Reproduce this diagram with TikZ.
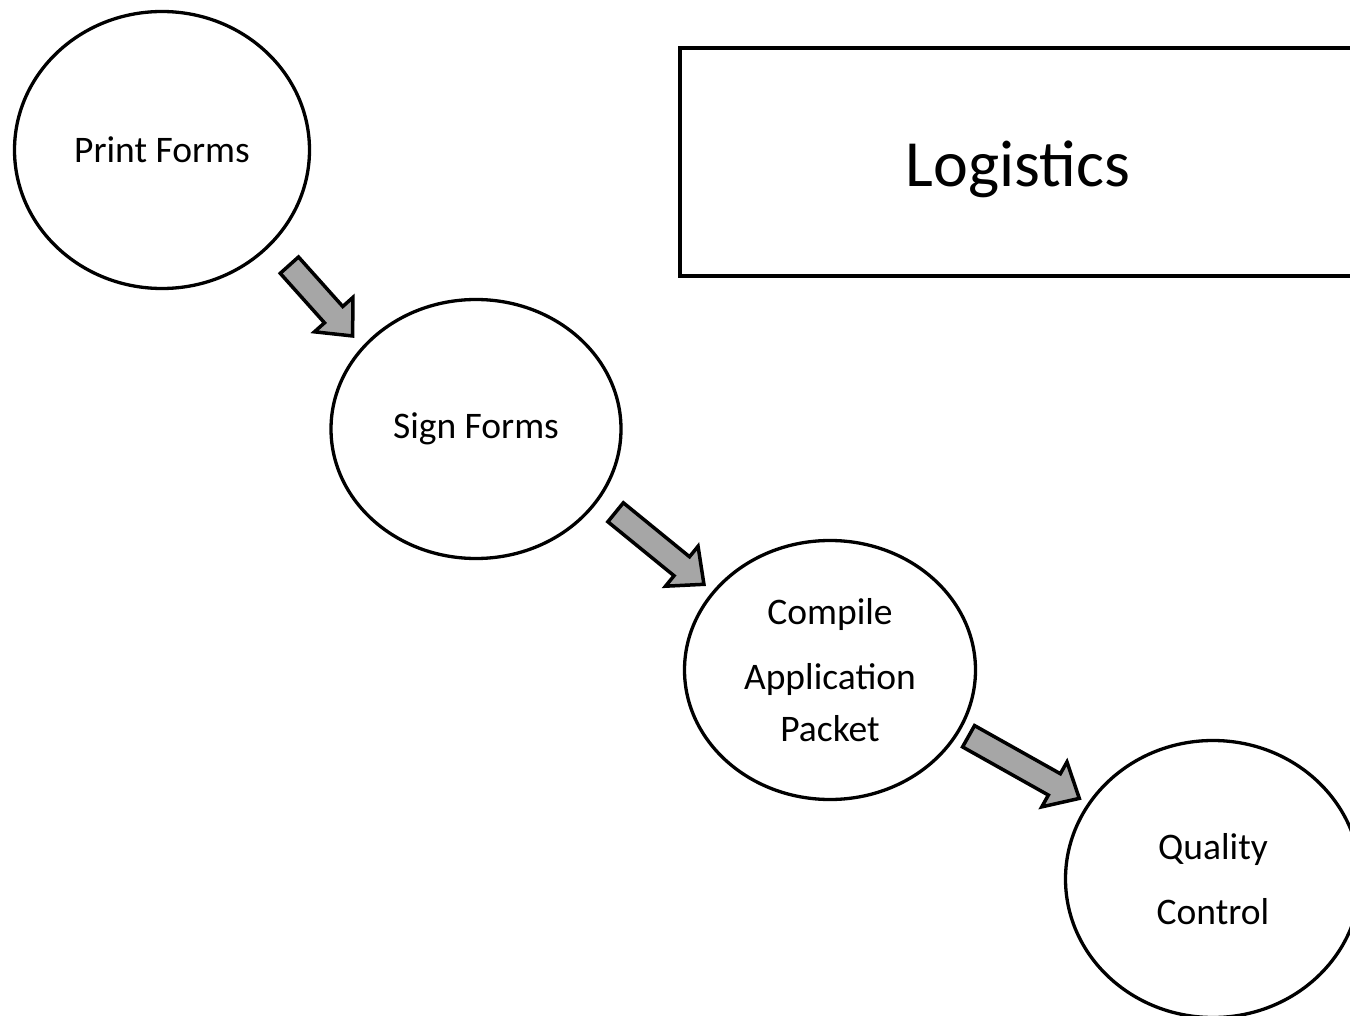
\documentclass[tikz,border=0pt]{standalone}
\usepackage{fontspec}
\setmainfont{Carlito}
\usetikzlibrary{shapes.geometric,shapes.arrows}
\definecolor{arrowgray}{HTML}{A6A6A6}
\begin{document}
\begin{tikzpicture}[x=1pt,y=-1pt,
  stage/.style={draw=black, line width=3.3pt, ellipse, inner sep=0pt, align=center,
    font=\fontsize{37.5}{44}\selectfont},
  flow/.style={single arrow, draw=black, line width=3.5pt, fill=arrowgray,
    inner xsep=0pt, inner ysep=10.5pt, single arrow head extend=13.5pt,
    single arrow tip angle=84, single arrow head indent=0pt},
  titlebox/.style={draw=black, line width=4pt, inner sep=0pt,
    text height=50pt, text depth=0pt,
    font=\fontsize{66}{79}\selectfont}
]
\useasboundingbox (0,0) rectangle (1350,1016);
\clip (0,0) rectangle (1350,1016);
\fill[white] (0,0) rectangle (1350,1016);

\node[stage, minimum width=295pt, minimum height=277pt] (print) at (162,150) {Print Forms};
\node[stage, minimum width=290pt, minimum height=259pt] (sign) at (476,429) {Sign Forms};
\node[stage, minimum width=291pt, minimum height=259pt] (compile) at (830,670)
  {Compile\\[21pt]Application\\[8pt]Packet};
\node[stage, minimum width=295pt, minimum height=277pt] (quality) at (1213,879)
  {Quality\\[21pt]Control};

\node[titlebox, minimum width=676pt, minimum height=228pt] (logi) at (1018,162) {Logistics};

\node[flow, minimum height=95pt, rotate=-48.2] (a1) at (316.5,295.5) {};
\node[flow, minimum height=114pt, rotate=-39.2] (a2) at (654.5,544) {};
\node[flow, minimum height=127pt, rotate=-29.3] (a3) at (1018,764) {};
\end{tikzpicture}
\end{document}
